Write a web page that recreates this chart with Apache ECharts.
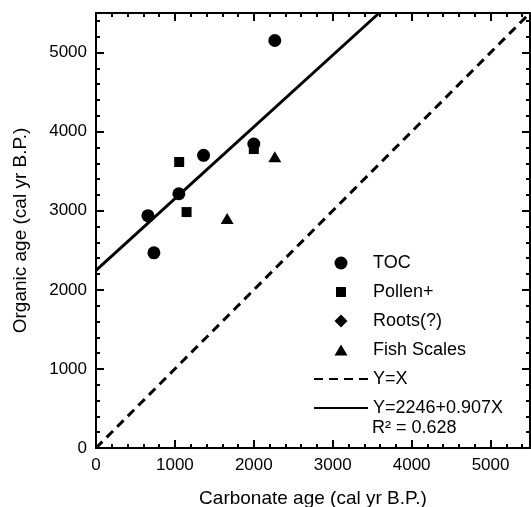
<!DOCTYPE html>
<html>
<head>
<meta charset="utf-8">
<script src="https://cdn.jsdelivr.net/npm/echarts@6/dist/echarts.min.js"></script>
<style>
html, body { margin: 0; padding: 0; background: #fff; }
#main { width: 531px; height: 507px; }
</style>
</head>
<body>
<div id="main"></div>
<script>
// ages in cal yr B.P. : [carbonate, organic]
var toc = [[658, 2937], [734, 2468], [1050, 3215], [1363, 3700], [2000, 3844], [2266, 5152]];
var pollen = [[1054, 3616], [1148, 2983], [2000, 3780]];
var roots = [];
var fishScales = [[1662, 2903], [2266, 3684]];
var oneToOne = [[0, 0], [5500, 5500]];
var fitLine = [[0, 2246], [3588, 5500]];   // Y=2246+0.907X
var axisMin = 0, axisMax = 5500, majorStep = 1000, minorStep = 200;

var font = 'Liberation Sans';
var black = '#000';

function majorAxis(pos, labels, gridIndex) {
    var a = {
        type: 'value', gridIndex: gridIndex, position: pos,
        min: axisMin, max: axisMax, interval: majorStep,
        axisLine: {show: true, onZero: false, lineStyle: {color: black, width: 2}},
        axisTick: {show: true, inside: true, length: 8, lineStyle: {color: black, width: 2}},
        axisLabel: {
            show: labels, color: black, fontSize: 17, fontFamily: font, margin: 9, showMaxLabel: false,
            formatter: function (v) { return String(v); }
        },
        splitLine: {show: false}
    };
    return a;
}
function minorAxis(pos, gridIndex) {
    return {
        type: 'value', gridIndex: gridIndex, position: pos,
        min: axisMin, max: axisMax, interval: minorStep,
        axisLine: {show: false, onZero: false},
        axisTick: {show: true, inside: true, length: 4, lineStyle: {color: black, width: 2}},
        axisLabel: {show: false},
        splitLine: {show: false}
    };
}

var xBottom = majorAxis('bottom', true, 0);
xBottom.name = 'Carbonate age (cal yr B.P.)';
xBottom.nameLocation = 'middle';
xBottom.nameGap = 41;
xBottom.nameTextStyle = {color: black, fontSize: 19, fontFamily: font};
var yLeft = majorAxis('left', true, 0);
yLeft.name = 'Organic age (cal yr B.P.)';
yLeft.nameLocation = 'middle';
yLeft.nameGap = 66;
yLeft.nameTextStyle = {color: black, fontSize: 19, fontFamily: font};

var gridBox = {left: 96, right: 1, top: 13, bottom: 59, containLabel: false, outerBoundsMode: 'none'};

var myChart = echarts.init(document.getElementById('main'));
var option = {
    animation: false,
    backgroundColor: '#fff',
    grid: [
        Object.assign({}, gridBox),
        Object.assign({}, gridBox)
    ],
    xAxis: [xBottom, majorAxis('top', false, 0), minorAxis('bottom', 1), minorAxis('top', 1)],
    yAxis: [yLeft, majorAxis('right', false, 0), minorAxis('left', 1), minorAxis('right', 1)],
    legend: {
        orient: 'vertical',
        left: 313, top: 254, padding: 0,
        itemWidth: 54, itemHeight: 13, itemGap: 11,
        selectedMode: false,
        textStyle: {color: black, fontSize: 18, fontFamily: font},
        data: [
            {name: 'TOC', icon: 'circle'},
            {name: 'Pollen+', icon: 'path://M0,0M13,13M1.5,1.5L11.5,1.5L11.5,11.5L1.5,11.5Z'},
            {name: 'Roots(?)', icon: 'path://M0,0M13,13M6.5,0L13,6.5L6.5,13L0,6.5Z'},
            {name: 'Fish Scales', icon: 'path://M0,0M13,13M6.5,1L13,12L0,12Z'},
            {name: 'Y=X', itemStyle: {opacity: 0}},
            {name: 'Y=2246+0.907X', itemStyle: {opacity: 0}}
        ]
    },
    graphic: [{
        type: 'text', left: 372, top: 419,
        style: {text: 'R\u00B2 = 0.628', fill: black, fontSize: 18, fontFamily: font}
    }],
    series: [
        {
            name: 'Y=X', type: 'line', data: oneToOne, symbol: 'none',
            lineStyle: {color: black, width: 3, type: [9, 6]}, z: 1
        },
        {
            name: 'Y=2246+0.907X', type: 'line', data: fitLine, symbol: 'none',
            lineStyle: {color: black, width: 3}, z: 1
        },
        {name: 'TOC', type: 'scatter', data: toc, symbol: 'circle', symbolSize: 13, itemStyle: {color: black, opacity: 1}},
        {name: 'Pollen+', type: 'scatter', data: pollen, symbol: 'rect', symbolSize: 10, itemStyle: {color: black, opacity: 1}},
        {name: 'Roots(?)', type: 'scatter', data: roots, symbol: 'diamond', symbolSize: 13, itemStyle: {color: black, opacity: 1}},
        {name: 'Fish Scales', type: 'scatter', data: fishScales, symbol: 'triangle', symbolSize: [13, 11], itemStyle: {color: black, opacity: 1}}
    ]
};
myChart.setOption(option);
</script>
</body>
</html>
